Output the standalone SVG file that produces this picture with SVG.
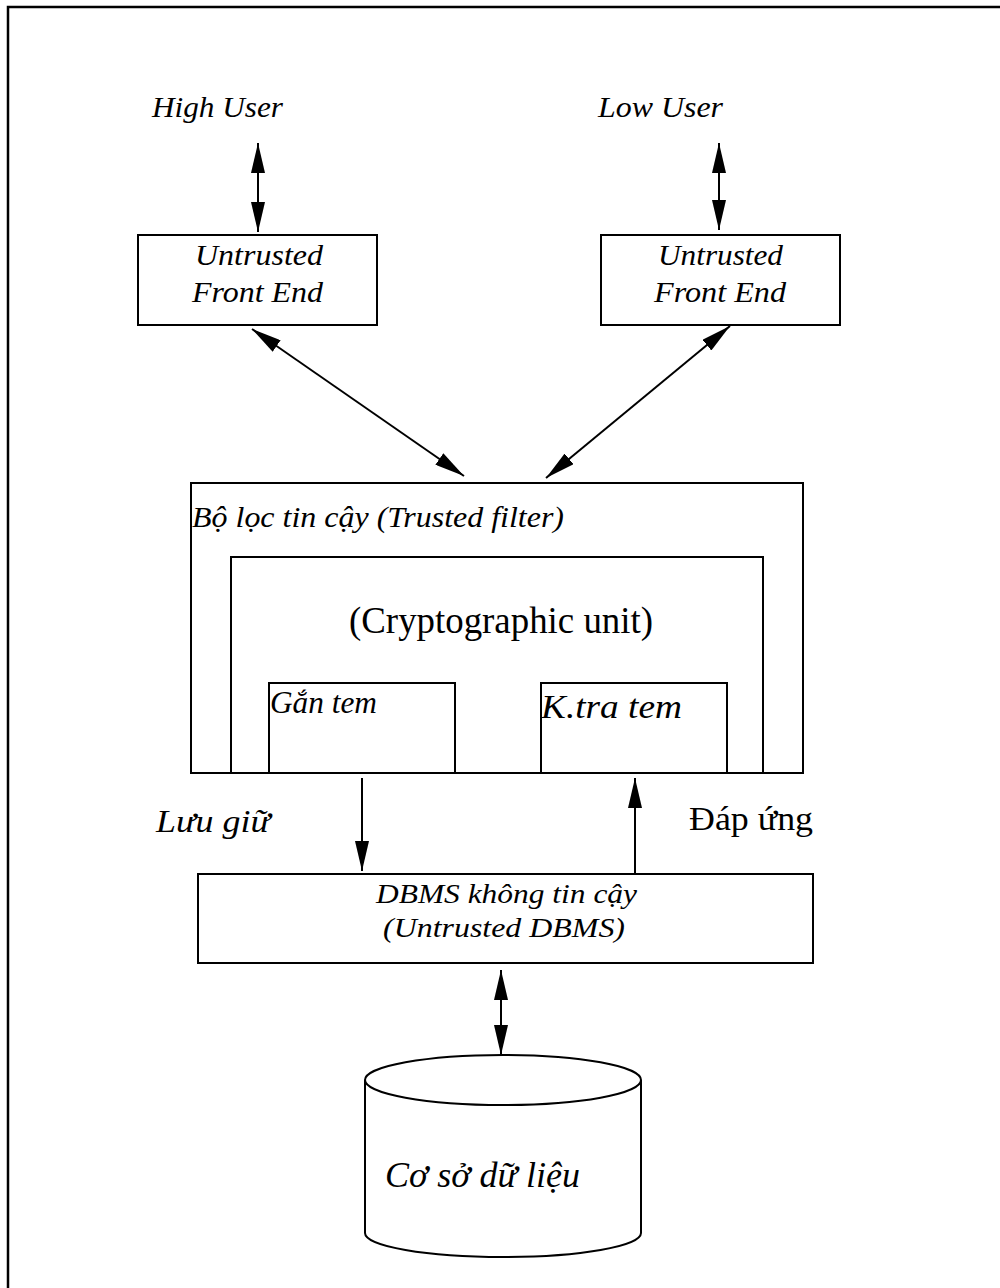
<svg xmlns="http://www.w3.org/2000/svg" width="1000" height="1288" viewBox="0 0 1000 1288">
  <style>
    .box { fill: #fff; stroke: #000; stroke-width: 2; }
    .conn { stroke: #000; stroke-width: 2; fill: none; }
    .it { font-family: "Liberation Serif", "Times New Roman", serif; font-style: italic; fill: #000; }
    .rm { font-family: "Liberation Serif", "Times New Roman", serif; fill: #000; }
  </style>
  <defs>
    <marker id="head" markerUnits="userSpaceOnUse" markerWidth="30" markerHeight="14" refX="30" refY="7" orient="auto-start-reverse">
      <path d="M0,0 L30,7 L0,14 Z" fill="#000"/>
    </marker>
  </defs>

  <rect width="1000" height="1288" fill="#fff"/>
  <!-- page frame -->
  <rect x="8" y="7" width="1010" height="1300" fill="none" stroke="#000" stroke-width="2.5"/>

  <g id="high-user">
    <text class="it" x="152" y="117" font-size="30" textLength="131" lengthAdjust="spacingAndGlyphs">High User</text>
  </g>
  <g id="low-user">
    <text class="it" x="598" y="117" font-size="30" textLength="125" lengthAdjust="spacingAndGlyphs">Low User</text>
  </g>

  <g id="front-end-high">
    <rect class="box" x="138" y="235" width="239" height="90"/>
    <text class="it" x="195" y="265" font-size="30" textLength="128" lengthAdjust="spacingAndGlyphs">Untrusted</text>
    <text class="it" x="192" y="302" font-size="30" textLength="131" lengthAdjust="spacingAndGlyphs">Front End</text>
  </g>
  <g id="front-end-low">
    <rect class="box" x="601" y="235" width="239" height="90"/>
    <text class="it" x="658" y="265" font-size="30" textLength="125" lengthAdjust="spacingAndGlyphs">Untrusted</text>
    <text class="it" x="654" y="302" font-size="30" textLength="132" lengthAdjust="spacingAndGlyphs">Front End</text>
  </g>

  <g id="trusted-filter">
    <rect class="box" x="191" y="483" width="612" height="290"/>
    <text class="it" x="192" y="527" font-size="30" textLength="372" lengthAdjust="spacingAndGlyphs">Bộ lọc tin cậy (Trusted filter)</text>
  </g>
  <g id="crypto-unit">
    <rect class="box" x="231" y="557" width="532" height="216"/>
    <text class="rm" x="349" y="633" font-size="37" textLength="304" lengthAdjust="spacingAndGlyphs">(Cryptographic unit)</text>
  </g>
  <g id="stamp">
    <rect class="box" x="269" y="683" width="186" height="90"/>
    <text class="it" x="270" y="713" font-size="31" textLength="107" lengthAdjust="spacingAndGlyphs">Gắn tem</text>
  </g>
  <g id="check-stamp">
    <rect class="box" x="541" y="683" width="186" height="90"/>
    <text class="it" x="541" y="718" font-size="33" textLength="141" lengthAdjust="spacingAndGlyphs">K.tra tem</text>
  </g>

  <g id="label-store">
    <text class="it" x="156" y="832" font-size="32" textLength="114" lengthAdjust="spacingAndGlyphs">Lưu giữ</text>
  </g>
  <g id="label-respond">
    <text class="rm" x="689" y="830" font-size="33" textLength="124" lengthAdjust="spacingAndGlyphs">Đáp ứng</text>
  </g>

  <g id="dbms">
    <rect class="box" x="198" y="874" width="615" height="89"/>
    <text class="it" x="376" y="903" font-size="27" textLength="261" lengthAdjust="spacingAndGlyphs">DBMS không tin cậy</text>
    <text class="it" x="383" y="937" font-size="27" textLength="242" lengthAdjust="spacingAndGlyphs">(Untrusted DBMS)</text>
  </g>

  <g id="database">
    <path class="box" d="M365,1080 L365,1233 A138,24 0 0 0 641,1233 L641,1080"/>
    <ellipse class="box" cx="503" cy="1080" rx="138" ry="25"/>
    <text class="it" x="385" y="1187" font-size="35" textLength="195" lengthAdjust="spacingAndGlyphs">Cơ sở dữ liệu</text>
  </g>

  <g id="connectors">
    <line class="conn" x1="258" y1="143" x2="258" y2="232" marker-start="url(#head)" marker-end="url(#head)"/>
    <line class="conn" x1="719" y1="143" x2="719" y2="230" marker-start="url(#head)" marker-end="url(#head)"/>
    <line class="conn" x1="252" y1="329" x2="464" y2="476" marker-start="url(#head)" marker-end="url(#head)"/>
    <line class="conn" x1="730" y1="326" x2="546" y2="478" marker-start="url(#head)" marker-end="url(#head)"/>
    <line class="conn" x1="362" y1="778" x2="362" y2="871" marker-end="url(#head)"/>
    <line class="conn" x1="635" y1="873" x2="635" y2="778" marker-end="url(#head)"/>
    <line class="conn" x1="501" y1="970" x2="501" y2="1055" marker-start="url(#head)" marker-end="url(#head)"/>
  </g>
</svg>
